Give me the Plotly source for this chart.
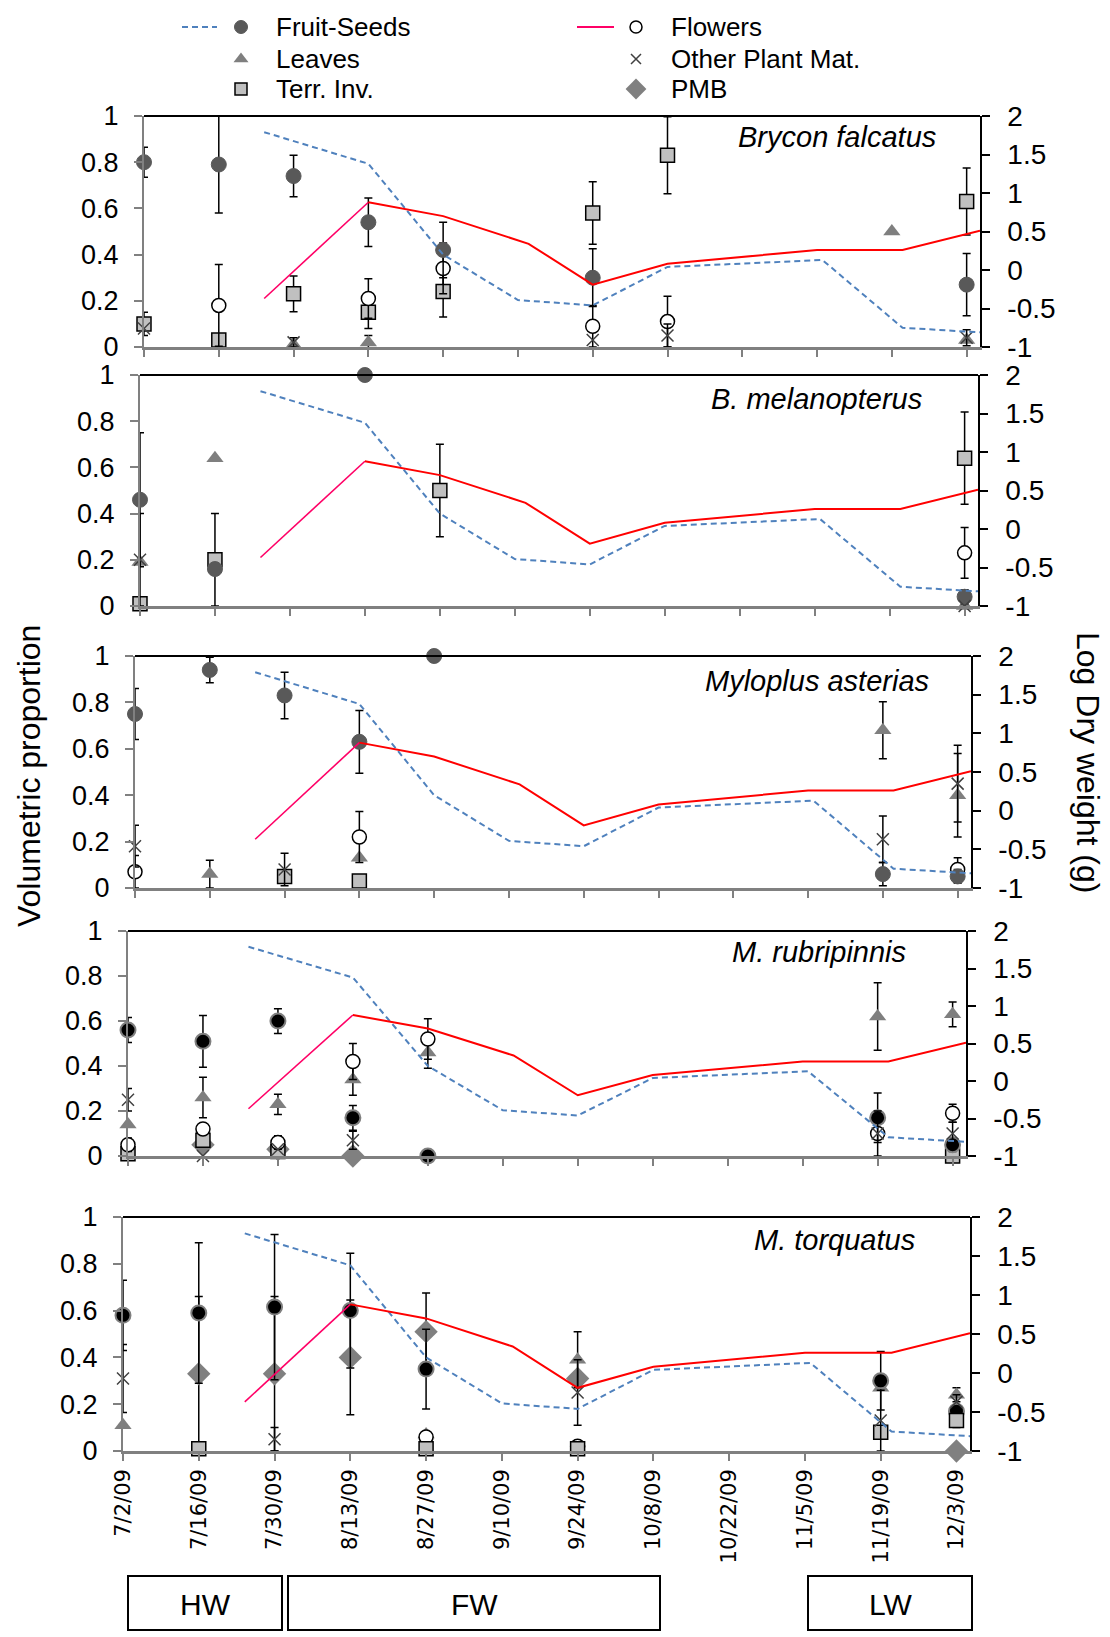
import plotly.graph_objects as go

N = None
# ---------------- data ----------------
dates = ['2009-07-02', '2009-07-16', '2009-07-30', '2009-08-13', '2009-08-27', '2009-09-10',
         '2009-09-24', '2009-10-08', '2009-10-22', '2009-11-05', '2009-11-19', '2009-12-03']
date_labels = ['7/2/09', '7/16/09', '7/30/09', '8/13/09', '8/27/09', '9/10/09',
               '9/24/09', '10/8/09', '10/22/09', '11/5/09', '11/19/09', '12/3/09']
x_end = '2009-12-05 12:00'

left_ticks = [0, 0.2, 0.4, 0.6, 0.8, 1]
left_labels = ['0', '0.2', '0.4', '0.6', '0.8', '1']
right_ticks = [-1, -0.5, 0, 0.5, 1, 1.5, 2]
right_labels = ['-1', '-0.5', '0', '0.5', '1', '1.5', '2']

# log dry weight lines (right axis)
fruit_dw_dates = ['2009-07-24 12:00', '2009-08-13', '2009-08-27', '2009-09-10', '2009-09-24',
                  '2009-10-08', '2009-11-06', '2009-11-21', '2009-12-05 12:00']
fruit_dw = [1.79, 1.38, 0.20, -0.39, -0.46, 0.04, 0.13, -0.75, -0.81]
flower_dw_dates = ['2009-07-24 12:00', '2009-08-13', '2009-08-27', '2009-09-12', '2009-09-24',
                   '2009-10-08', '2009-11-05', '2009-11-21', '2009-12-05 12:00']
flower_dw = [-0.37, 0.88, 0.70, 0.34, -0.19, 0.08, 0.26, 0.26, 0.51]

species = ['Brycon falcatus', 'B. melanopterus', 'Myloplus asterias', 'M. rubripinnis', 'M. torquatus']

# Panel 1: Brycon falcatus
p1_fruit = [0.80, 0.79, 0.74, 0.54, 0.42, N, 0.30, N, N, N, N, 0.27]
p1_fruit_err = [0.065, 0.21, 0.09, 0.105, 0.12, N, 0.125, N, N, N, N, 0.135]
p1_flowers = [N, 0.18, N, 0.21, 0.34, N, 0.09, 0.11, N, N, N, N]
p1_flowers_err = [N, 0.177, N, 0.085, 0.11, N, 0.09, 0.11, N, N, N, N]
p1_leaves = [N, N, 0.01, 0.02, N, N, N, N, N, N, 0.50, 0.03]
p1_leaves_err = [N, N, N, 0.03, N, N, N, N, N, N, N, N]
p1_terr = [0.10, 0.03, 0.23, 0.15, 0.24, N, 0.58, 0.83, N, N, N, 0.63]
p1_terr_err = [0.05, N, 0.077, 0.07, 0.11, N, 0.135, 0.167, N, N, N, 0.145]
p1_other = [0.08, N, 0.02, N, N, N, 0.03, 0.05, N, N, N, 0.04]
p1_other_err = [N, N, 0.02, N, N, N, N, 0.05, N, N, N, 0.035]

# Panel 2: B. melanopterus
p2_fruit = [0.46, 0.16, N, 1.0, N, N, N, N, N, N, N, 0.04]
p2_fruit_err = [0.29, N, N, N, N, N, N, N, N, N, N, 0.03]
p2_flowers = [N, N, N, N, N, N, N, N, N, N, N, 0.23]
p2_flowers_err = [N, N, N, N, N, N, N, N, N, N, N, 0.11]
p2_leaves = [0.19, 0.64, N, N, N, N, N, N, N, N, N, 0.0]
p2_terr = [0.01, 0.20, N, N, 0.50, N, N, N, N, N, N, 0.64]
p2_terr_err = [N, 0.20, N, N, 0.20, N, N, N, N, N, N, 0.20]
p2_other = [0.20, N, N, N, N, N, N, N, N, N, N, 0.0]
p2_other_err = [0.20, N, N, N, N, N, N, N, N, N, N, N]

# Panel 3: Myloplus asterias
p3_fruit = [0.75, 0.94, 0.83, 0.63, 1.0, N, N, N, N, N, 0.06, 0.05]
p3_fruit_err = [0.11, 0.055, 0.10, 0.135, N, N, N, N, N, N, 0.05, 0.03]
p3_flowers = [0.07, N, N, 0.22, N, N, N, N, N, N, N, 0.08]
p3_flowers_err = [0.07, N, N, 0.11, N, N, N, N, N, N, N, 0.05]
p3_leaves = [N, 0.06, N, 0.13, N, N, N, N, N, N, 0.68, 0.40]
p3_leaves_err = [N, 0.06, N, N, N, N, N, N, N, N, 0.123, 0.18]
p3_terr = [N, N, 0.05, 0.03, N, N, N, N, N, N, N, N]
p3_other = [0.18, N, 0.08, N, N, N, N, N, N, N, 0.21, 0.45]
p3_other_err = [0.09, N, 0.07, N, N, N, N, N, N, N, 0.10, 0.165]

# Panel 4: M. rubripinnis
p4_fruit = [0.56, 0.51, 0.60, 0.17, 0.0, N, N, N, N, N, 0.17, 0.05]
p4_fruit_err = [0.055, 0.115, 0.055, 0.055, N, N, N, N, N, N, 0.11, 0.03]
p4_flowers = [0.05, 0.12, 0.06, 0.42, 0.52, N, N, N, N, N, 0.10, 0.19]
p4_flowers_err = [0.03, N, 0.03, 0.08, 0.09, N, N, N, N, N, N, 0.04]
p4_leaves = [0.14, 0.26, 0.23, 0.34, 0.46, N, N, N, N, N, 0.62, 0.63]
p4_leaves_err = [N, 0.09, 0.045, 0.07, 0.07, N, N, N, N, N, 0.15, 0.055]
p4_terr = [0.01, 0.07, 0.02, N, N, N, N, N, N, N, N, 0.0]
p4_other = [0.25, 0.0, 0.03, 0.07, N, N, N, N, N, N, 0.10, 0.10]
p4_other_err = [0.05, N, N, 0.04, N, N, N, N, N, N, 0.10, 0.05]
p4_pmb = [N, 0.05, 0.03, 0.0, N, N, N, N, N, N, N, N]

# Panel 5: M. torquatus
p5_fruit = [0.58, 0.59, 0.615, 0.60, 0.35, N, N, N, N, N, 0.30, 0.17]
p5_fruit_err = [0.15, 0.30, 0.31, 0.245, 0.17, N, N, N, N, N, 0.125, 0.07]
p5_flowers = [N, N, N, N, 0.06, N, 0.02, N, N, N, N, N]
p5_leaves = [0.11, N, N, N, 0.07, N, 0.39, N, N, N, 0.27, 0.24]
p5_leaves_err = [N, N, N, N, N, N, 0.12, N, N, N, N, 0.03]
p5_terr = [N, 0.01, N, N, 0.01, N, 0.01, N, N, N, 0.08, 0.13]
p5_other = [0.31, N, 0.05, N, N, N, 0.25, N, N, N, 0.13, 0.21]
p5_other_err = [0.145, N, 0.05, N, N, N, 0.14, N, N, N, 0.13, N]
p5_pmb = [N, 0.33, 0.33, 0.40, 0.51, N, 0.31, N, N, N, N, 0.0]
p5_pmb_err = [N, 0.33, 0.33, 0.245, 0.165, N, N, N, N, N, N, N]

legend_labels = ['Fruit-Seeds', 'Leaves', 'Terr. Inv.', 'Flowers', 'Other Plant Mat.', 'PMB']
season_labels = ['HW', 'FW', 'LW']

# ---------------- styles ----------------
W, H = 1110, 1637
def px(x):
    return x / W
def py(y):
    return 1 - y / H

FONT = 'Liberation Sans, Arial, sans-serif'
styles = {
    'fruit': dict(symbol='circle', size=15, color='#595959', line=dict(color='#595959', width=1)),
    'fruit_dark': dict(symbol='circle', size=15, color='#000000', line=dict(color='#7f7f7f', width=2)),
    'leaves': dict(symbol='triangle-up', size=15, color='#7f7f7f', line=dict(width=0)),
    'terr': dict(symbol='square', size=14, color='#c0c0c0', line=dict(color='#000000', width=1.5)),
    'flowers': dict(symbol='circle', size=14, color='#ffffff', line=dict(color='#000000', width=1.5)),
    'other': dict(symbol='x-thin', size=12, color='#404040', line=dict(color='#404040', width=1.5)),
    'pmb': dict(symbol='diamond', size=18, color='#808080', line=dict(width=0)),
}

panels = [
    dict(box=(144, 980, 116, 347), fruit_style='fruit',
         series=[('leaves', p1_leaves, p1_leaves_err), ('terr', p1_terr, p1_terr_err),
                 ('flowers', p1_flowers, p1_flowers_err), ('fruit', p1_fruit, p1_fruit_err),
                 ('other', p1_other, p1_other_err)],
         title_xy=(938, 137)),
    dict(box=(140, 978, 375, 606), fruit_style='fruit',
         series=[('leaves', p2_leaves, None), ('terr', p2_terr, p2_terr_err),
                 ('flowers', p2_flowers, p2_flowers_err), ('fruit', p2_fruit, p2_fruit_err),
                 ('other', p2_other, p2_other_err)],
         title_xy=(924, 399)),
    dict(box=(135, 971, 656, 888), fruit_style='fruit',
         series=[('leaves', p3_leaves, p3_leaves_err), ('terr', p3_terr, None),
                 ('flowers', p3_flowers, p3_flowers_err), ('fruit', p3_fruit, p3_fruit_err),
                 ('other', p3_other, p3_other_err)],
         title_xy=(931, 681)),
    dict(box=(128, 966, 931, 1156), fruit_style='fruit_dark',
         series=[('pmb', p4_pmb, None), ('leaves', p4_leaves, p4_leaves_err), ('terr', p4_terr, None),
                 ('flowers', p4_flowers, p4_flowers_err), ('fruit', p4_fruit, p4_fruit_err),
                 ('other', p4_other, p4_other_err)],
         title_xy=(908, 952)),
    dict(box=(123, 970, 1217, 1451), fruit_style='fruit_dark',
         series=[('pmb', p5_pmb, p5_pmb_err), ('leaves', p5_leaves, p5_leaves_err),
                 ('flowers', p5_flowers, None), ('fruit', p5_fruit, p5_fruit_err),
                 ('terr', p5_terr, None), ('other', p5_other, p5_other_err)],
         title_xy=(917, 1240)),
]

fig = go.Figure()
layout = dict(template='none', width=W, height=H,
              margin=dict(l=0, r=0, t=0, b=0, pad=0, autoexpand=False),
              paper_bgcolor='white', plot_bgcolor='rgba(0,0,0,0)', showlegend=False,
              font=dict(family=FONT, color='black'))
shapes = []
annotations = []

for i, p in enumerate(panels):
    x0, x1, y0, y1 = p['box']
    xa = 'x' if i == 0 else f'x{i+1}'
    yl = 'y' if i == 0 else f'y{2*i+1}'
    yr = f'y{2*i+2}'
    xkey = 'xaxis' if i == 0 else f'xaxis{i+1}'
    ylkey = 'yaxis' if i == 0 else f'yaxis{2*i+1}'
    yrkey = f'yaxis{2*i+2}'
    layout[xkey] = dict(domain=[px(x0), px(x1)], anchor=yl, type='date', range=[dates[0], x_end],
                        tickmode='array', tickvals=dates, ticktext=date_labels, automargin=False,
                        showticklabels=(i == 4), tickangle=-90, ticks='outside', ticklen=7,
                        tickcolor='#808080', tickwidth=1.5, showline=True, linecolor='#808080',
                        linewidth=2.5, showgrid=False, zeroline=False,
                        tickfont=dict(family='DejaVu Sans', size=21, color='black'))
    layout[ylkey] = dict(domain=[py(y1), py(y0)], anchor=xa, range=[0, 1], tickmode='array',
                         tickvals=left_ticks, ticktext=left_labels, ticks='outside', ticklen=8,
                         tickcolor='#808080', tickwidth=1.5, showline=True, linecolor='#808080',
                         linewidth=2, showgrid=False, zeroline=False, ticklabelstandoff=10,
                         automargin=False, tickfont=dict(family=FONT, size=27, color='black'))
    layout[yrkey] = dict(overlaying=yl, side='right', anchor=xa, range=[-1, 2], tickmode='array',
                         tickvals=right_ticks, ticktext=right_labels, ticks='outside', ticklen=8,
                         tickcolor='black', tickwidth=1.5, showline=True, linecolor='black',
                         linewidth=1.5, showgrid=False, zeroline=False, ticklabelstandoff=12,
                         automargin=False, tickfont=dict(family=FONT, size=28, color='black'))
    # top border
    shapes.append(dict(type='line', xref='paper', yref='paper', x0=px(x0), x1=px(x1),
                       y0=py(y0), y1=py(y0), line=dict(color='black', width=2)))

    # log dry weight lines
    fig.add_trace(go.Scatter(x=fruit_dw_dates, y=fruit_dw, mode='lines', xaxis=xa, yaxis=yr,
                             line=dict(color='#4f81bd', width=2, dash='6px,4px'), cliponaxis=False))
    fig.add_trace(go.Scatter(x=flower_dw_dates[:2], y=flower_dw[:2], mode='lines', xaxis=xa, yaxis=yr,
                             line=dict(color='#ff0066', width=1.6), cliponaxis=False))
    fig.add_trace(go.Scatter(x=flower_dw_dates[1:], y=flower_dw[1:], mode='lines', xaxis=xa, yaxis=yr,
                             line=dict(color='#ff0000', width=2), cliponaxis=False))

    for key, vals, errs in p['series']:
        if vals is None:
            continue
        st = styles[p['fruit_style']] if key == 'fruit' else styles[key]
        if errs is None:
            errs = [N] * len(vals)
        xe = [d for d, v, e in zip(dates, vals, errs) if v is not None and e is not None]
        ye = [v for v, e in zip(vals, errs) if v is not None and e is not None]
        ee = [e for v, e in zip(vals, errs) if v is not None and e is not None]
        xn = [d for d, v, e in zip(dates, vals, errs) if v is not None and e is None]
        yn = [v for v, e in zip(vals, errs) if v is not None and e is None]
        if xe:
            fig.add_trace(go.Scatter(x=xe, y=ye, mode='markers', xaxis=xa, yaxis=yl, marker=st,
                                     cliponaxis=False,
                                     error_y=dict(type='data', array=ee, visible=True, color='black',
                                                  thickness=1.5, width=4)))
        if xn:
            fig.add_trace(go.Scatter(x=xn, y=yn, mode='markers', xaxis=xa, yaxis=yl, marker=st,
                                     cliponaxis=False))

    tx, ty = p['title_xy']
    annotations.append(dict(text='<i>' + species[i] + '</i>', x=px(tx), y=py(ty), xref='paper',
                            yref='paper', xanchor='right', yanchor='middle', showarrow=False,
                            font=dict(family=FONT, size=29, color='black')))

# ---------------- legend (own hidden axes) ----------------
layout['xaxis6'] = dict(domain=[0, 1], anchor='y11', range=[0, W], visible=False, fixedrange=True,
                        automargin=False)
layout['yaxis11'] = dict(domain=[py(100), 1], anchor='x6', range=[100, 0], visible=False,
                         fixedrange=True, automargin=False)
fig.add_trace(go.Scatter(x=[182, 217], y=[27, 27], mode='lines', xaxis='x6', yaxis='y11',
                         line=dict(color='#4f81bd', width=2, dash='6px,4px')))
fig.add_trace(go.Scatter(x=[577, 614], y=[27, 27], mode='lines', xaxis='x6', yaxis='y11',
                         line=dict(color='#ff0066', width=2)))
leg_items = [('fruit', 241, 27), ('leaves', 241, 59), ('terr', 241, 89),
             ('flowers', 636, 27), ('other', 636, 59), ('pmb', 636, 89)]
for (key, lx, ly), lab in zip(leg_items, legend_labels):
    st = dict(styles[key])
    st['size'] = max(st['size'] - 2, 10)
    fig.add_trace(go.Scatter(x=[lx], y=[ly], mode='markers', xaxis='x6', yaxis='y11', marker=st,
                             cliponaxis=False))
    annotations.append(dict(text=lab, x=lx + 33, y=ly, xref='x6', yref='y11', xanchor='left',
                            yanchor='middle', showarrow=False,
                            font=dict(family=FONT, size=26, color='black')))

# ---------------- axis titles ----------------
annotations.append(dict(text='Volumetric proportion', x=px(29), y=py(776), xref='paper', yref='paper',
                        textangle=-90, showarrow=False, xanchor='center', yanchor='middle',
                        font=dict(family=FONT, size=32, color='black')))
annotations.append(dict(text='Log Dry weight (g)', x=px(1088), y=py(762), xref='paper', yref='paper',
                        textangle=90, showarrow=False, xanchor='center', yanchor='middle',
                        font=dict(family=FONT, size=32, color='black')))

# ---------------- season boxes ----------------
season_boxes = [(128, 282), (288, 660), (808, 972)]
for (bx0, bx1), lab in zip(season_boxes, season_labels):
    shapes.append(dict(type='rect', xref='paper', yref='paper', x0=px(bx0), x1=px(bx1),
                       y0=py(1630), y1=py(1576), line=dict(color='black', width=2)))
    annotations.append(dict(text=lab, x=px((bx0 + bx1) / 2), y=py(1604), xref='paper', yref='paper',
                            showarrow=False, xanchor='center', yanchor='middle',
                            font=dict(family=FONT, size=30, color='black')))

layout['shapes'] = shapes
layout['annotations'] = annotations
fig.update_layout(**layout)
fig.write_html('out.html')
